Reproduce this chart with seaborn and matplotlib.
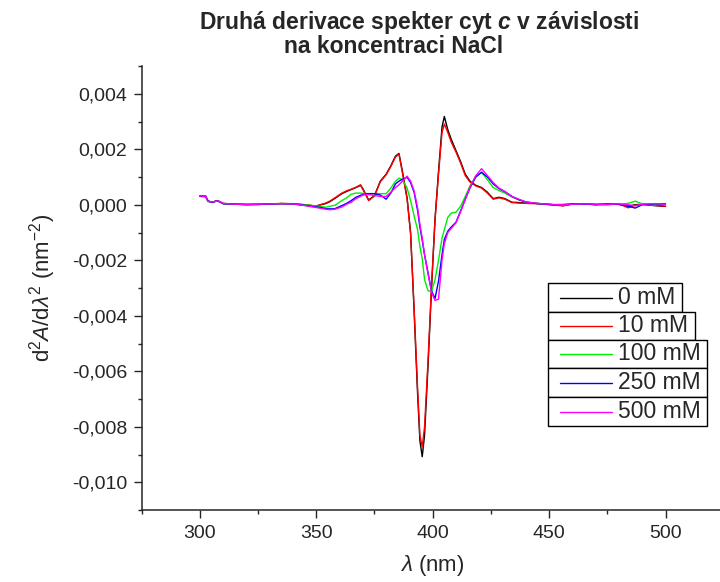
import numpy as np
import pandas as pd
import seaborn as sns
import matplotlib
matplotlib.use("Agg")
import matplotlib.pyplot as plt
from matplotlib.patches import Rectangle
from matplotlib.lines import Line2D
from matplotlib.ticker import MultipleLocator, FuncFormatter

# wavelength grid (nm) and second-derivative values (x 1e-3)
wavelength = [300, 302.5, 303.5, 305.5, 307.5, 310, 315, 320, 325, 330, 335, 340, 345,
              350, 352, 354, 356, 358, 361, 363, 365, 367, 369, 370, 372.5, 375, 377.5,
              380, 382, 384, 385.5, 387, 389, 390.5, 392, 393.5, 394.5, 395.5, 396.5,
              398, 399.5, 401, 402.5, 404, 405, 406.5, 408, 410, 412, 414, 416, 418.5,
              421, 423.5, 426, 428.5, 431, 434, 437, 440, 444, 448, 452, 456, 460, 465,
              470, 475, 480, 484, 487, 490, 495, 500]

nacl_0 = [0.31, 0.31, 0.13, 0.09, 0.15, 0.04, 0.02, 0.01, 0.01, 0.03, 0.04, 0.04, 0.0,
          -0.05, 0.0, 0.04, 0.12, 0.23, 0.40, 0.48, 0.55, 0.62, 0.70, 0.58, 0.17, 0.33, 0.85,
          1.10, 1.40, 1.75, 1.85, 1.20, 0.25, -1.0, -3.8, -6.8, -8.5, -9.08, -8.3,
          -5.8, -3.0, -0.5, 1.2, 2.8, 3.18, 2.7, 2.35, 1.95, 1.55, 1.1, 0.85, 0.70,
          0.62, 0.45, 0.22, 0.27, 0.22, 0.09, 0.08, 0.06, 0.05, 0.03, 0.0, -0.03, 0.02, 0.04,
          0.0, 0.02, 0.02, -0.05, 0.0, 0.02, -0.03, -0.06]

nacl_10 = [0.30, 0.29, 0.12, 0.10, 0.14, 0.05, 0.02, 0.0, 0.02, 0.02, 0.05, 0.03, -0.01,
           -0.04, 0.01, 0.06, 0.14, 0.25, 0.42, 0.50, 0.56, 0.63, 0.72, 0.55, 0.15, 0.32, 0.83,
           1.08, 1.38, 1.72, 1.83, 1.15, 0.2, -1.05, -3.7, -6.6, -8.3, -8.72, -8.0,
           -5.6, -2.9, -0.55, 1.1, 2.6, 2.91, 2.6, 2.25, 1.9, 1.5, 1.05, 0.82, 0.68,
           0.60, 0.42, 0.20, 0.25, 0.20, 0.08, 0.06, 0.05, 0.04, 0.02, -0.01, -0.04, 0.03, 0.03,
           0.01, 0.0, 0.03, -0.11, -0.02, 0.01, -0.02, -0.05]

nacl_100 = [0.30, 0.30, 0.12, 0.09, 0.14, 0.04, 0.02, 0.01, 0.02, 0.03, 0.04, 0.03, 0.0,
            -0.05, -0.06, -0.09, -0.05, -0.02, 0.15, 0.25, 0.38, 0.42, 0.42, 0.41, 0.40, 0.40, 0.40,
            0.40, 0.60, 0.85, 0.96, 0.90, 0.60, 0.15, -0.4, -0.9, -1.5, -1.94, -2.7,
            -3.1, -3.12, -2.7, -2.0, -1.2, -0.9, -0.45, -0.3, -0.27, -0.05, 0.3, 0.68, 1.02,
            1.17, 0.90, 0.62, 0.51, 0.42, 0.28, 0.18, 0.10, 0.06, 0.02, 0.0, 0.0, 0.02, 0.04,
            0.0, 0.02, 0.02, 0.05, 0.13, 0.03, 0.0, 0.04]

nacl_250 = [0.31, 0.30, 0.13, 0.09, 0.15, 0.04, 0.02, 0.01, 0.01, 0.03, 0.04, 0.03, -0.02,
            -0.08, -0.10, -0.14, -0.15, -0.14, -0.03, 0.05, 0.15, 0.27, 0.34, 0.37, 0.40, 0.40, 0.35,
            0.20, 0.42, 0.75, 0.85, 0.92, 0.99, 0.80, 0.45, -0.2, -0.8, -1.28, -1.8,
            -2.45, -3.1, -3.38, -2.75, -1.8, -1.25, -0.95, -0.8, -0.63, -0.22, 0.2, 0.6, 1.0,
            1.17, 1.0, 0.75, 0.58, 0.47, 0.30, 0.18, 0.10, 0.05, 0.02, 0.0, 0.01, 0.03, 0.02,
            0.01, 0.03, 0.01, -0.05, -0.12, 0.0, 0.03, 0.03]

nacl_500 = [0.31, 0.31, 0.12, 0.10, 0.14, 0.05, 0.02, 0.01, 0.02, 0.03, 0.04, 0.03, -0.03,
            -0.10, -0.13, -0.16, -0.18, -0.16, -0.08, 0.02, 0.09, 0.22, 0.30, 0.35, 0.37, 0.33, 0.30,
            0.30, 0.45, 0.62, 0.72, 0.85, 1.03, 0.85, 0.50, -0.1, -0.7, -1.2, -1.8,
            -2.5, -3.15, -3.45, -3.4, -2.0, -1.4, -1.0, -0.85, -0.65, -0.25, 0.2, 0.62, 1.05,
            1.30, 1.05, 0.80, 0.60, 0.48, 0.30, 0.20, 0.10, 0.06, 0.03, 0.01, 0.0, 0.02, 0.03,
            0.02, 0.01, 0.03, 0.0, -0.04, 0.02, 0.04, 0.02]

labels = ["0 mM", "10 mM", "100 mM", "250 mM", "500 mM"]
colors = ["#000000", "#ff0000", "#00ee00", "#0000ff", "#ff00ff"]
series = [nacl_0, nacl_10, nacl_100, nacl_250, nacl_500]

# long table for seaborn
frames = []
for lab, vals in zip(labels, series):
    frames.append(pd.DataFrame({"wl": wavelength,
                                "d2": np.array(vals) * 1e-3,
                                "conc": lab}))
df = pd.concat(frames, ignore_index=True)

sns.set_style("ticks")
plt.rcParams["font.family"] = ["Liberation Sans", "DejaVu Sans"]
plt.rcParams["mathtext.fontset"] = "custom"
plt.rcParams["mathtext.rm"] = "Liberation Sans"
plt.rcParams["mathtext.it"] = "Liberation Sans:italic"
plt.rcParams["mathtext.bf"] = "Liberation Sans:bold:italic"

W, H = 720, 582
fig = plt.figure(figsize=(7.2, 5.82), dpi=100)
ax = fig.add_axes([141.7 / W, (H - 510) / H, 582 / W, 444 / H])

sns.lineplot(data=df, x="wl", y="d2", hue="conc", palette=colors,
             hue_order=labels, linewidth=1.0, legend=False, ax=ax, sort=False)

ax.set_xlim(275, 525)
ax.set_ylim(-0.011, 0.005)
ax.xaxis.set_major_locator(MultipleLocator(50))
ax.xaxis.set_minor_locator(MultipleLocator(25))
ax.yaxis.set_major_locator(MultipleLocator(0.002))
ax.yaxis.set_minor_locator(MultipleLocator(0.001))
ax.yaxis.set_major_formatter(FuncFormatter(lambda v, p: f"{v:.3f}".replace(".", ",")))
ax.xaxis.set_major_formatter(FuncFormatter(lambda v, p: f"{v:.0f}"))

for s in ["top", "right"]:
    ax.spines[s].set_visible(False)
for s in ["left", "bottom"]:
    ax.spines[s].set_linewidth(1.1)
ax.tick_params(which="major", direction="out", length=5.5, width=1.0, labelsize=14, pad=5)
ax.tick_params(which="minor", direction="out", length=3, width=1.0)

ax.set_xlabel(r"$\lambda$ (nm)", fontsize=16, labelpad=8)
ax.set_ylabel(r"d$^2$$A$/d$\lambda^2$ (nm$^{-2}$)", fontsize=16, labelpad=10)

# title, two lines as in the original
fig.text(199 / W, 1 - 29 / H, r"Druhá derivace spekter cyt $\mathbf{c}$ v závislosti",
         fontsize=16.5, fontweight="bold", ha="left", va="baseline")
fig.text(284 / W, 1 - 53 / H, "na koncentraci NaCl",
         fontsize=16.5, fontweight="bold", ha="left", va="baseline")

# Origin-style legend, one framed box per entry
boxes = [(548, 283, 682, 312), (548, 312, 695, 340), (548, 340, 707, 368),
         (548, 368, 707, 397), (548, 397, 707, 426)]
for (x0, y0, x1, y1), lab, col in zip(boxes, labels, colors):
    fig.add_artist(Rectangle((x0 / W, 1 - y1 / H), (x1 - x0) / W, (y1 - y0) / H,
                             transform=fig.transFigure, facecolor="white",
                             edgecolor="black", linewidth=1.0))
    yc = 1 - (y0 + y1) / 2 / H
    fig.add_artist(Line2D([560 / W, 612 / W], [yc, yc], transform=fig.transFigure,
                          color=col, linewidth=1.0))
    fig.text(618 / W, yc, lab, fontsize=16.5, ha="left", va="center")

fig.savefig("out.png", dpi=100)
